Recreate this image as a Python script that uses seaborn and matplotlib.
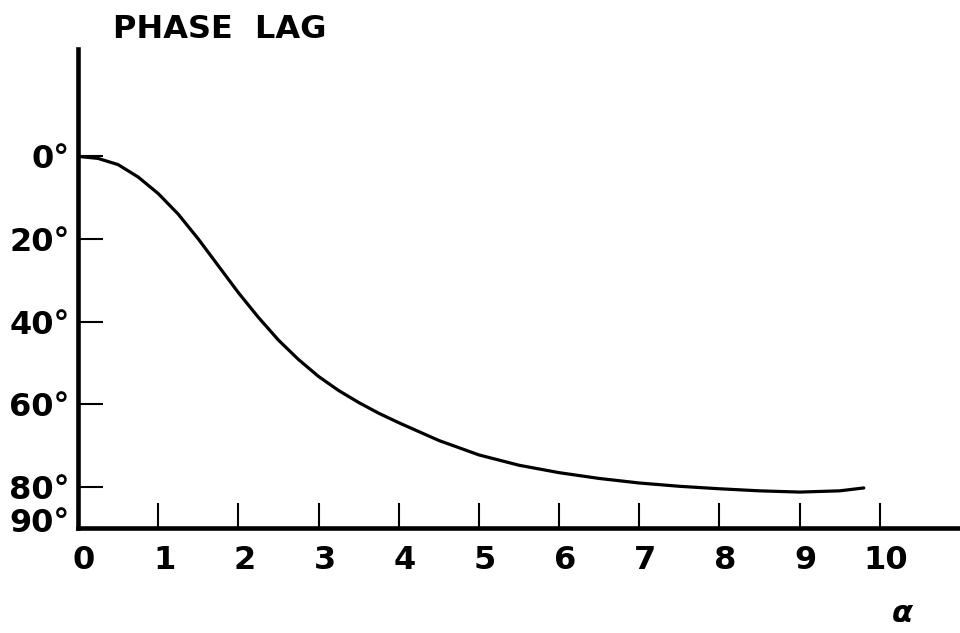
import matplotlib
matplotlib.use("Agg")
import matplotlib.pyplot as plt
import matplotlib.transforms as mtransforms
import seaborn as sns

# values
alpha = [0.0, 0.25, 0.5, 0.75, 1.0, 1.25, 1.5, 1.75, 2.0, 2.25, 2.5, 2.75,
         3.0, 3.25, 3.5, 3.75, 4.0, 4.5, 5.0, 5.5, 6.0, 6.5, 7.0, 7.5, 8.0,
         8.5, 9.0, 9.5, 9.8]
phase_lag = [0.0, 0.5, 2.0, 5.0, 9.0, 14.0, 20.0, 26.5, 33.0, 39.0, 44.5, 49.2,
             53.3, 56.7, 59.6, 62.2, 64.5, 68.8, 72.3, 74.8, 76.6, 78.0, 79.1,
             79.9, 80.5, 81.0, 81.3, 81.0, 80.3]

x_ticks = list(range(0, 11))
x_labels = [str(v) for v in x_ticks]
y_ticks = [0, 20, 40, 60, 80, 90]
y_labels = [f"{v}°" for v in y_ticks]

sns.set_style("ticks")
plt.rcParams["font.family"] = ["DejaVu Sans"]
plt.rcParams["text.color"] = "black"

fig = plt.figure(figsize=(9.6, 6.33), dpi=100)
ax = fig.add_axes([78 / 960, 105 / 633, 1 - 78 / 960, (528 - 49) / 633])

sns.lineplot(x=alpha, y=phase_lag, ax=ax, color="black", linewidth=2.3)

ax.set_xlim(0, 11.0)
ax.set_ylim(90, -26)

ax.set_xticks(x_ticks)
ax.set_xticklabels(x_labels)
ax.set_yticks(y_ticks)
ax.set_yticklabels(y_labels)

ax.tick_params(axis="both", direction="in", length=18, width=1.5,
               colors="black", labelsize=23)
ax.tick_params(axis="x", pad=12)
ax.tick_params(axis="y", pad=6)
for lbl in ax.get_xticklabels() + ax.get_yticklabels():
    lbl.set_fontweight("bold")

# hand lettering sits a little right of the x ticks
for lbl in ax.get_xticklabels():
    lbl.set_transform(lbl.get_transform() +
                      mtransforms.ScaledTranslation(6 / 100, 0, fig.dpi_scale_trans))

# the 90 degree label sits a little above the axis line
lbl90 = ax.get_yticklabels()[-1]
lbl90.set_transform(lbl90.get_transform() +
                    mtransforms.ScaledTranslation(0, 8 / 100, fig.dpi_scale_trans))

sns.despine(ax=ax)
for side in ["left", "bottom"]:
    ax.spines[side].set_linewidth(3.3)
    ax.spines[side].set_color("black")

ax.set_xlabel("")
ax.set_ylabel("")

fig.text(113 / 960, 1 - 30 / 633, "PHASE  LAG", ha="left", va="center",
         fontsize=23, fontweight="bold", color="black")
fig.text(902 / 960, 1 - 614 / 633, "α", ha="center", va="center",
         fontsize=22, fontweight="bold", style="italic", color="black")

fig.savefig("out.png", dpi=100, facecolor="white")
